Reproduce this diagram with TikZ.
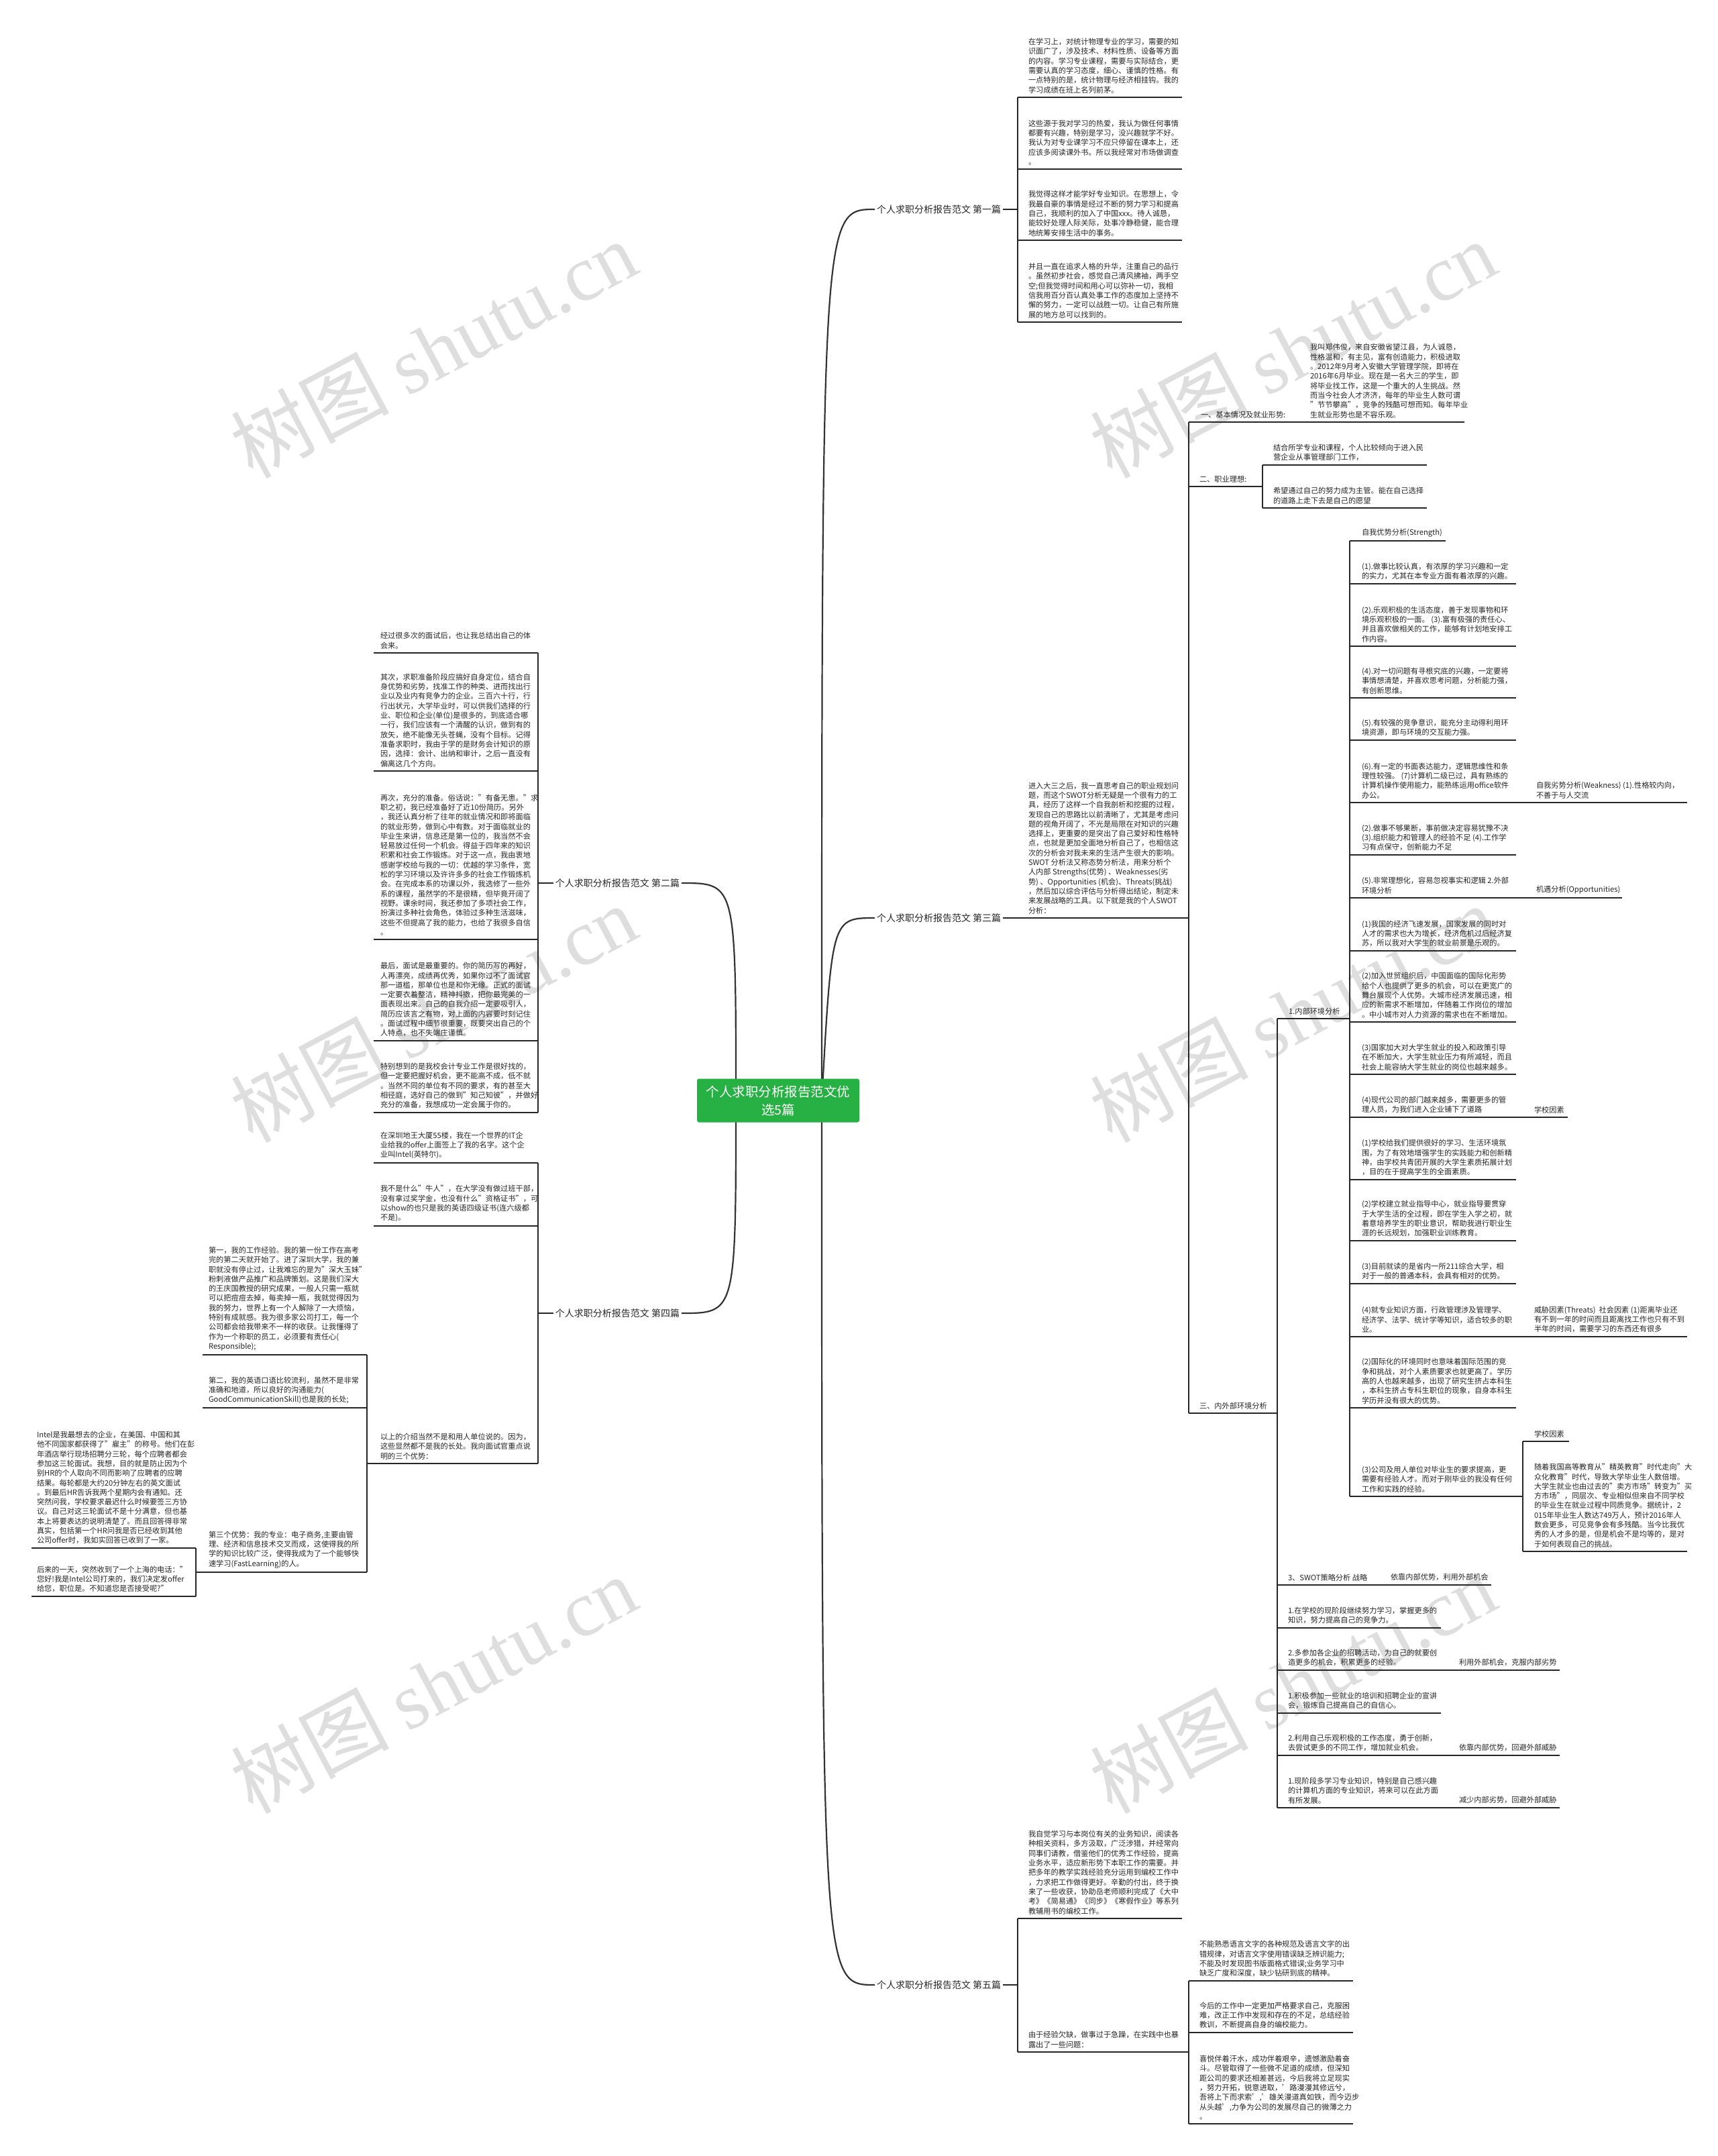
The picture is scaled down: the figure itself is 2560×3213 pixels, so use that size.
\documentclass[tikz,border=0pt]{standalone}
\usepackage{fontspec}
\setmainfont{Noto Sans CJK SC}
\newfontfamily\wmserif{Liberation Serif}
\definecolor{mmgreen}{HTML}{27B043}
\newcommand{\fz}{\fontsize{11.2}{14.3}\selectfont}
\newcommand{\fzl}{\fontsize{14}{17}\selectfont}
\newcommand{\fzc}{\fontsize{19.5}{27}\selectfont}
\newcommand{\fzw}{\fontsize{118}{118}\selectfont}
\newcommand{\mmnode}[7][txt]{%
  \coordinate (#2-a) at (#3,#4);
  \coordinate (#2-b) at (#5,#4);
  \node[#1] (#2) at (#6,#4) {#7};
  \draw[uline] (#2-a) -- (#2-b);
}
\begin{document}
\begin{tikzpicture}[x=1pt,y=-1pt,
  txt/.style={anchor=south west, inner sep=0pt, outer sep=0pt, align=left, font=\fz, text=black!85, yshift=6pt},
  blabel/.style={inner sep=0pt, outer sep=0pt, font=\fzl, text=black!85},
  uline/.style={line width=2pt, draw=black!85},
  branchcurve/.style={line width=2.2pt, draw=black!80},
  wmark/.style={rotate=28, text=black!13, font=\fzw, inner sep=0pt}
]
\useasboundingbox (0,0) rectangle (2560,3213);
\fill[white] (0,0) rectangle (2560,3213);

% watermarks
\node[wmark] (wm1) at (646,520) {树图 {\wmserif shutu.cn}};
\node[wmark] (wm2) at (1927,520) {树图 {\wmserif shutu.cn}};
\node[wmark] (wm3) at (646,1510) {树图 {\wmserif shutu.cn}};
\node[wmark] (wm4) at (1927,1510) {树图 {\wmserif shutu.cn}};
\node[wmark] (wm5) at (646,2510) {树图 {\wmserif shutu.cn}};
\node[wmark] (wm6) at (1927,2510) {树图 {\wmserif shutu.cn}};

% ---------- branch labels ----------
\node[blabel, anchor=west] (R1) at (1307,312) {个人求职分析报告范文 第一篇};
\node[blabel, anchor=west] (R3) at (1307,1368) {个人求职分析报告范文 第三篇};
\node[blabel, anchor=west] (R5) at (1307,2958) {个人求职分析报告范文 第五篇};
\node[blabel, anchor=east] (L2) at (1013,1316) {个人求职分析报告范文 第二篇};
\node[blabel, anchor=east] (L4) at (1013,1957) {个人求职分析报告范文 第四篇};
\coordinate (R1-b) at (1517,312);
\coordinate (R3-b) at (1517,1368);
\coordinate (R5-b) at (1517,2958);
\coordinate (L2-a) at (802,1316);
\coordinate (L4-a) at (802,1957);
\draw[uline] ([xshift=3pt]R1.east) -- (R1-b);
\draw[uline] ([xshift=3pt]R3.east) -- (R3-b);
\draw[uline] ([xshift=3pt]R5.east) -- (R5-b);
\draw[uline] ([xshift=-3pt]L2.west) -- (L2-a);
\draw[uline] ([xshift=-3pt]L4.west) -- (L4-a);

% ---------- branch 1 ----------
\mmnode{a1}{1517}{145}{1762}{1533}{在学习上，对统计物理专业的学习，需要的知\\识面广了，涉及技术、材料性质、设备等方面\\的内容。学习专业课程，需要与实际结合，更\\需要认真的学习态度，细心、谨慎的性格。有\\一点特别的是，统计物理与经济相挂钩。我的\\学习成绩在班上名列前茅。}
\mmnode{a2}{1517}{252}{1762}{1533}{这些源于我对学习的热爱，我认为做任何事情\\都要有兴趣，特别是学习，没兴趣就学不好。\\我认为对专业课学习不应只停留在课本上，还\\应该多阅读课外书。所以我经常对市场做调查\\。}
\mmnode{a3}{1517}{358}{1762}{1533}{我觉得这样才能学好专业知识。在思想上，令\\我最自豪的事情是经过不断的努力学习和提高\\自己，我顺利的加入了中国xxx。待人诚恳，\\能较好处理人际关际，处事冷静稳健，能合理\\地统筹安排生活中的事务。}
\mmnode{a4}{1517}{480}{1762}{1533}{并且一直在追求人格的升华，注重自己的品行\\。虽然初步社会，感觉自己清风拂袖，两手空\\空;但我觉得时间和用心可以弥补一切，我相\\信我用百分百认真处事工作的态度加上坚持不\\懈的努力，一定可以战胜一切。让自己有所施\\展的地方总可以找到的。}
\draw[uline] (a1-a) -- (a4-a);

% ---------- branch 3 ----------
\mmnode{c0}{1517}{1368}{1772}{1533}{进入大三之后，我一直思考自己的职业规划问\\题，而这个SWOT分析无疑是一个很有力的工\\具，经历了这样一个自我剖析和挖掘的过程，\\发现自己的思路比以前清晰了，尤其是考虑问\\题的视角开阔了，不光是局限在对知识的兴趣\\选择上，更重要的是突出了自己爱好和性格特\\点，也就是更加全面地分析自己了，也相信这\\次的分析会对我未来的生活产生很大的影响。\\SWOT 分析法又称态势分析法，用来分析个\\人内部 Strengths(优势) 、Weaknesses(劣\\势) 、Opportunities (机会)、Threats(挑战)\\，然后加以综合评估与分析得出结论，制定未\\来发展战略的工具。以下就是我的个人SWOT\\分析：}
\mmnode{c1}{1772}{629}{1940}{1790}{一、基本情况及就业形势:}
\mmnode{c1x}{1940}{629}{2183}{1953}{我叫郑伟俊，来自安徽省望江县，为人诚恳，\\性格温和，有主见，富有创造能力，积极进取\\。2012年9月考入安徽大学管理学院，即将在\\2016年6月毕业。现在是一名大三的学生，即\\将毕业找工作，这是一个重大的人生挑战。然\\而当今社会人才济济，每年的毕业生人数可谓\\"节节攀高"，竞争的残酷可想而知。每年毕业\\生就业形势也是不容乐观。}
\mmnode{c2}{1772}{725}{1882}{1788}{二、职业理想:}
\mmnode{c2a}{1882}{693}{2127}{1898}{结合所学专业和课程，个人比较倾向于进入民\\营企业从事管理部门工作，}
\mmnode{c2b}{1882}{757}{2127}{1898}{希望通过自己的努力成为主管。能在自己选择\\的道路上走下去是自己的愿望}
\draw[uline] (c2a-a) -- (c2b-a);
\mmnode{c3}{1772}{2106}{1904}{1788}{三、内外部环境分析}
\draw[uline] (c1-a) -- (c3-a);

\mmnode{d0}{1904}{1518}{2012}{1921}{1.内部环境分析}
\mmnode{e1}{2012}{806}{2155}{2030}{自我优势分析(Strength)}
\mmnode{e2}{2012}{870}{2260}{2030}{(1).做事比较认真，有浓厚的学习兴趣和一定\\的实力，尤其在本专业方面有着浓厚的兴趣。}
\mmnode{e3}{2012}{963}{2260}{2030}{(2).乐观积极的生活态度，善于发现事物和环\\境乐观积极的一面。 (3).富有极强的责任心、\\并且喜欢做相关的工作，能够有计划地安排工\\作内容。}
\mmnode{e4}{2012}{1040}{2260}{2030}{(4).对一切问题有寻根究底的兴趣，一定要将\\事情想清楚，并喜欢思考问题，分析能力强，\\有创新思维。}
\mmnode{e5}{2012}{1103}{2260}{2030}{(5).有较强的竞争意识，能充分主动得利用环\\境资源，即与环境的交互能力强。}
\mmnode{e6}{2012}{1196}{2260}{2030}{(6).有一定的书面表达能力，逻辑思维性和条\\理性较强。 (7)计算机二级已过，具有熟练的\\计算机操作使用能力，能熟练运用office软件\\办公。}
\mmnode{e6x}{2260}{1196}{2515}{2290}{自我劣势分析(Weakness) (1).性格较内向，\\不善于与人交流}
\mmnode{e7}{2012}{1274}{2260}{2030}{(2).做事不够果断，事前做决定容易犹豫不决\\(3).组织能力和管理人的经验不足 (4).工作学\\习有点保守，创新能力不足}
\mmnode{e8}{2012}{1338}{2260}{2030}{(5).非常理想化，容易忽视事实和逻辑 2.外部\\环境分析}
\mmnode{e8x}{2260}{1338}{2418}{2290}{机遇分析(Opportunities)}
\mmnode{e9}{2012}{1417}{2260}{2030}{(1)我国的经济飞速发展，国家发展的同时对\\人才的需求也大为增长，经济危机过后经济复\\苏，所以我对大学生的就业前景是乐观的。}
\mmnode{e10}{2012}{1523}{2260}{2030}{(2)加入世贸组织后，中国面临的国际化形势\\给个人也提供了更多的机会，可以在更宽广的\\舞台展现个人优势。大城市经济发展迅速，相\\应的新需求不断增加，伴随着工作岗位的增加\\。中小城市对人力资源的需求也在不断增加。}
\mmnode{e11}{2012}{1601}{2260}{2030}{(3)国家加大对大学生就业的投入和政策引导\\在不断加大，大学生就业压力有所减轻，而且\\社会上能容纳大学生就业的岗位也越来越多。}
\mmnode{e12}{2012}{1665}{2260}{2030}{(4)现代公司的部门越来越多，需要更多的管\\理人员，为我们进入企业铺下了道路}
\mmnode{e12x}{2260}{1665}{2337}{2287}{学校因素}
\mmnode{e13}{2012}{1758}{2260}{2030}{(1)学校给我们提供很好的学习、生活环境氛\\围，为了有效地增强学生的实践能力和创新精\\神，由学校共青团开展的大学生素质拓展计划\\，目的在于提高学生的全面素质。}
\mmnode{e14}{2012}{1849}{2260}{2030}{(2)学校建立就业指导中心，就业指导要贯穿\\于大学生活的全过程，即在学生入学之初，就\\着意培养学生的职业意识，帮助我进行职业生\\涯的长远规划，加强职业训练教育。}
\mmnode{e15}{2012}{1913}{2260}{2030}{(3)目前就读的是省内一所211综合大学，相\\对于一般的普通本科，会具有相对的优势。}
\mmnode{e16}{2012}{1992}{2260}{2030}{(4)就专业知识方面，行政管理涉及管理学、\\经济学、法学、统计学等知识，适合较多的职\\业。}
\mmnode{e16x}{2260}{1992}{2515}{2287}{威胁因素(Threats)\ \ 社会因素 (1)距离毕业还\\有不到一年的时间而且距离找工作也只有不到\\半年的时间，需要学习的东西还有很多}
\mmnode{e17}{2012}{2098}{2260}{2030}{(2)国际化的环境同时也意味着国际范围的竞\\争和挑战，对个人素质要求也就更高了。学历\\高的人也越来越多，出现了研究生挤占本科生\\，本科生挤占专科生职位的现象，自身本科生\\学历并没有很大的优势。}
\mmnode{e18}{2012}{2230}{2270}{2030}{(3)公司及用人单位对毕业生的要求提高，更\\需要有经验人才。而对于刚毕业的我没有任何\\工作和实践的经验。}
\draw[uline] (e1-a) -- (e18-a);
\mmnode{f1}{2270}{2148}{2339}{2287}{学校因素}
\mmnode{f2}{2270}{2312}{2515}{2287}{随着我国高等教育从"精英教育"时代走向"大\\众化教育"时代，导致大学毕业生人数倍增。\\大学生就业也由过去的"卖方市场"转变为"买\\方市场"，同层次、专业相似但来自不同学校\\的毕业生在就业过程中同质竞争。据统计，2\\015年毕业生人数达749万人，预计2016年人\\数会更多，可见竞争会有多残酷。当今比我优\\秀的人才多的是，但是机会不是均等的，是对\\于如何表现自己的挑战。}
\draw[uline] (f1-a) -- (f2-a);

\mmnode{g0}{1904}{2362}{2065}{1920}{3、SWOT策略分析 战略}
\mmnode{g0x}{2065}{2362}{2223}{2073}{依靠内部优势，利用外部机会}
\mmnode{g1}{1904}{2426}{2148}{1920}{1.在学校的现阶段继续努力学习，掌握更多的\\知识，努力提高自己的竞争力。}
\mmnode{g2}{1904}{2489}{2148}{1920}{2.多参加各企业的招聘活动，为自己的就要创\\造更多的机会，积累更多的经验。}
\mmnode{g2x}{2148}{2489}{2325}{2175}{利用外部机会，克服内部劣势}
\mmnode{g3}{1904}{2553}{2148}{1920}{1.积极参加一些就业的培训和招聘企业的宣讲\\会，锻炼自己提高自己的自信心。}
\mmnode{g4}{1904}{2616}{2148}{1920}{2.利用自己乐观积极的工作态度，勇于创新，\\去尝试更多的不同工作，增加就业机会。}
\mmnode{g4x}{2148}{2616}{2325}{2175}{依靠内部优势，回避外部威胁}
\mmnode{g5}{1904}{2694}{2148}{1920}{1.现阶段多学习专业知识，特别是自己感兴趣\\的计算机方面的专业知识，将来可以在此方面\\有所发展。}
\mmnode{g5x}{2148}{2694}{2325}{2175}{减少内部劣势，回避外部威胁}
\draw[uline] (d0-a) -- (g5-a);

% ---------- branch 5 ----------
\mmnode{h1}{1517}{2859}{1762}{1533}{我自觉学习与本岗位有关的业务知识，阅读各\\种相关资料，多方汲取，广泛涉猎，并经常向\\同事们请教，借鉴他们的优秀工作经验，提高\\业务水平，适应新形势下本职工作的需要。并\\把多年的教学实践经验充分运用到编校工作中\\，力求把工作做得更好。辛勤的付出，终于换\\来了一些收获，协助岳老师顺利完成了《大中\\考》《简易通》《同步》《寒假作业》等系列\\教辅用书的编校工作。}
\mmnode{h2}{1517}{3058}{1772}{1533}{由于经验欠缺，做事过于急躁，在实践中也暴\\露出了一些问题：}
\draw[uline] (h1-a) -- (h2-a);
\mmnode{h3}{1772}{2952}{2017}{1788}{不能熟悉语言文字的各种规范及语言文字的出\\错规律，对语言文字使用错误缺乏辨识能力;\\不能及时发现图书版面格式错误;业务学习中\\缺乏广度和深度，缺少钻研到底的精神。}
\mmnode{h4}{1772}{3029}{2017}{1788}{今后的工作中一定更加严格要求自己，克服困\\难，改正工作中发现和存在的不足，总结经验\\教训，不断提高自身的编校能力。}
\mmnode{h5}{1772}{3165}{2017}{1788}{喜悦伴着汗水，成功伴着艰辛，遗憾激励着奋\\斗。尽管取得了一些微不足道的成绩，但深知\\距公司的要求还相差甚远，今后我将立足现实\\，努力开拓，锐意进取，'路漫漫其修远兮，\\吾将上下而求索','雄关漫道真如铁，而今迈步\\从头越',力争为公司的发展尽自己的微薄之力\\。}
\draw[uline] (h3-a) -- (h5-a);

% ---------- branch 2 ----------
\mmnode{b1}{557}{973}{802}{567}{经过很多次的面试后，也让我总结出自己的体\\会来。}
\mmnode{b2}{557}{1149}{802}{567}{其次，求职准备阶段应搞好自身定位，结合自\\身优势和劣势，找准工作的种类、进而找出行\\业以及业内有竞争力的企业。三百六十行，行\\行出状元，大学毕业时，可以供我们选择的行\\业、职位和企业(单位)是很多的，到底适合哪\\一行，我们应该有一个清醒的认识，做到有的\\放矢，绝不能像无头苍蝇，没有个目标。记得\\准备求职时，我由于学的是财务会计知识的原\\因，选择：会计、出纳和审计，之后一直没有\\偏离这几个方向。}
\mmnode{b3}{557}{1400}{802}{567}{再次，充分的准备。俗话说："有备无患。"求\\职之初，我已经准备好了近10份简历。另外\\，我还认真分析了往年的就业情况和即将面临\\的就业形势，做到心中有数。对于面临就业的\\毕业生来讲，信息还是第一位的，我当然不会\\轻易放过任何一个机会。得益于四年来的知识\\积累和社会工作锻炼。对于这一点，我由衷地\\感谢学校给与我的一切：优越的学习条件，宽\\松的学习环境以及许许多多的社会工作锻炼机\\会。在完成本系的功课以外，我选修了一些外\\系的课程，虽然学的不是很精，但毕竟开阔了\\视野。课余时间，我还参加了多项社会工作，\\扮演过多种社会角色，体验过多种生活滋味，\\这些不但提高了我的能力，也给了我很多自信\\。}
\mmnode{b4}{557}{1551}{802}{567}{最后，面试是最重要的。你的简历写的再好，\\人再漂亮，成绩再优秀，如果你过不了面试官\\那一道槛，那单位也是和你无缘。正式的面试\\一定要衣着整洁，精神抖擞，把你最完美的一\\面表现出来。自己的自我介绍一定要吸引人，\\简历应该言之有物，对上面的内容要时刻记住\\。面试过程中细节很重要，既要突出自己的个\\人特点，也不失端庄谨慎。}
\mmnode{b5}{557}{1658}{802}{567}{特别想到的是我校会计专业工作是很好找的，\\但一定要把握好机会，更不能高不成，低不就\\。当然不同的单位有不同的要求，有的甚至大\\相径庭，选好自己的做到"知己知彼"，并做好\\充分的准备，我想成功一定会属于你的。}
\draw[uline] (b1-b) -- (b5-b);

% ---------- branch 4 ----------
\mmnode{k1}{557}{1733}{802}{567}{在深圳地王大厦55楼，我在一个世界的IT企\\业给我的offer上面签上了我的名字。这个企\\业叫Intel(英特尔)。}
\mmnode{k2}{557}{1827}{802}{567}{我不是什么"牛人"，在大学没有做过班干部，\\没有拿过奖学金，也没有什么"资格证书"，可\\以show的也只是我的英语四级证书(连六级都\\不是)。}
\mmnode{k3}{547}{2181}{802}{567}{以上的介绍当然不是和用人单位说的。因为，\\这些显然都不是我的长处。我向面试官重点说\\明的三个优势：}
\draw[uline] (k1-b) -- (k3-b);
\mmnode{m1}{302}{2019}{547}{311}{第一，我的工作经验。我的第一份工作在高考\\完的第二天就开始了。进了深圳大学，我的兼\\职就没有停止过，让我难忘的是为"深大玉妹"\\粉刺液做产品推广和品牌策划。这是我们深大\\的王庆国教授的研究成果，一般人只需一瓶就\\可以把痘痘去掉，每卖掉一瓶，我就觉得因为\\我的努力，世界上有一个人解除了一大烦恼，\\特别有成就感。我为很多家公司打工，每一个\\公司都会给我带来不一样的收获。让我懂得了\\作为一个称职的员工，必须要有责任心(\\Responsible);}
\mmnode{m2}{302}{2098}{547}{311}{第二，我的英语口语比较流利，虽然不是非常\\准确和地道，所以良好的沟通能力(\\GoodCommunicationSkill)也是我的长处;}
\mmnode{m3}{292}{2343}{547}{311}{第三个优势：我的专业：电子商务,主要由管\\理、经济和信息技术交叉而成，这使得我的所\\学的知识比较广泛，使得我成为了一个能够快\\速学习(FastLearning)的人。}
\draw[uline] (m1-b) -- (m3-b);
\mmnode{n1}{47}{2307}{292}{55}{Intel是我最想去的企业，在美国、中国和其\\他不同国家都获得了"雇主"的称号。他们在彭\\年酒店举行现场招聘分三轮，每个应聘者都会\\参加这三轮面试。我想，目的就是防止因为个\\别HR的个人取向不同而影响了应聘者的应聘\\结果。每轮都是大约20分钟左右的英文面试\\。到最后HR告诉我两个星期内会有通知。还\\突然问我，学校要求最迟什么时候要签三方协\\议。自己对这三轮面试不是十分满意，但也基\\本上将要表达的说明清楚了。而且回答得非常\\真实，包括第一个HR问我是否已经收到其他\\公司offer时，我如实回答已收到了一家。}
\mmnode{n2}{47}{2379}{292}{55}{后来的一天，突然收到了一个上海的电话："\\您好!我是Intel公司打来的，我们决定发offer\\给您，职位是。不知道您是否接受呢?"}
\draw[uline] (n1-b) -- (n2-b);

% ---------- curves from the centre ----------
\coordinate (cr) at (1225,1640);
\coordinate (cl) at (1097,1640);
\draw[branchcurve] (cr) .. controls (1225,312) and (1225,312) .. ([xshift=-3pt]R1.west);
\draw[branchcurve] (cr) .. controls (1240,1368) and (1240,1368) .. ([xshift=-3pt]R3.west);
\draw[branchcurve] (cr) .. controls (1225,2958) and (1225,2958) .. ([xshift=-3pt]R5.west);
\draw[branchcurve] (cl) .. controls (1097,1316) and (1097,1316) .. ([xshift=3pt]L2.east);
\draw[branchcurve] (cl) .. controls (1097,1957) and (1097,1957) .. ([xshift=3pt]L4.east);

\node[fill=mmgreen, text=white, font=\fzc, align=center, minimum width=242pt, minimum height=65pt, rounded corners=3pt, inner sep=0pt] (ctr) at (1160,1640) {个人求职分析报告范文优\\选5篇};
\end{tikzpicture}
\end{document}
